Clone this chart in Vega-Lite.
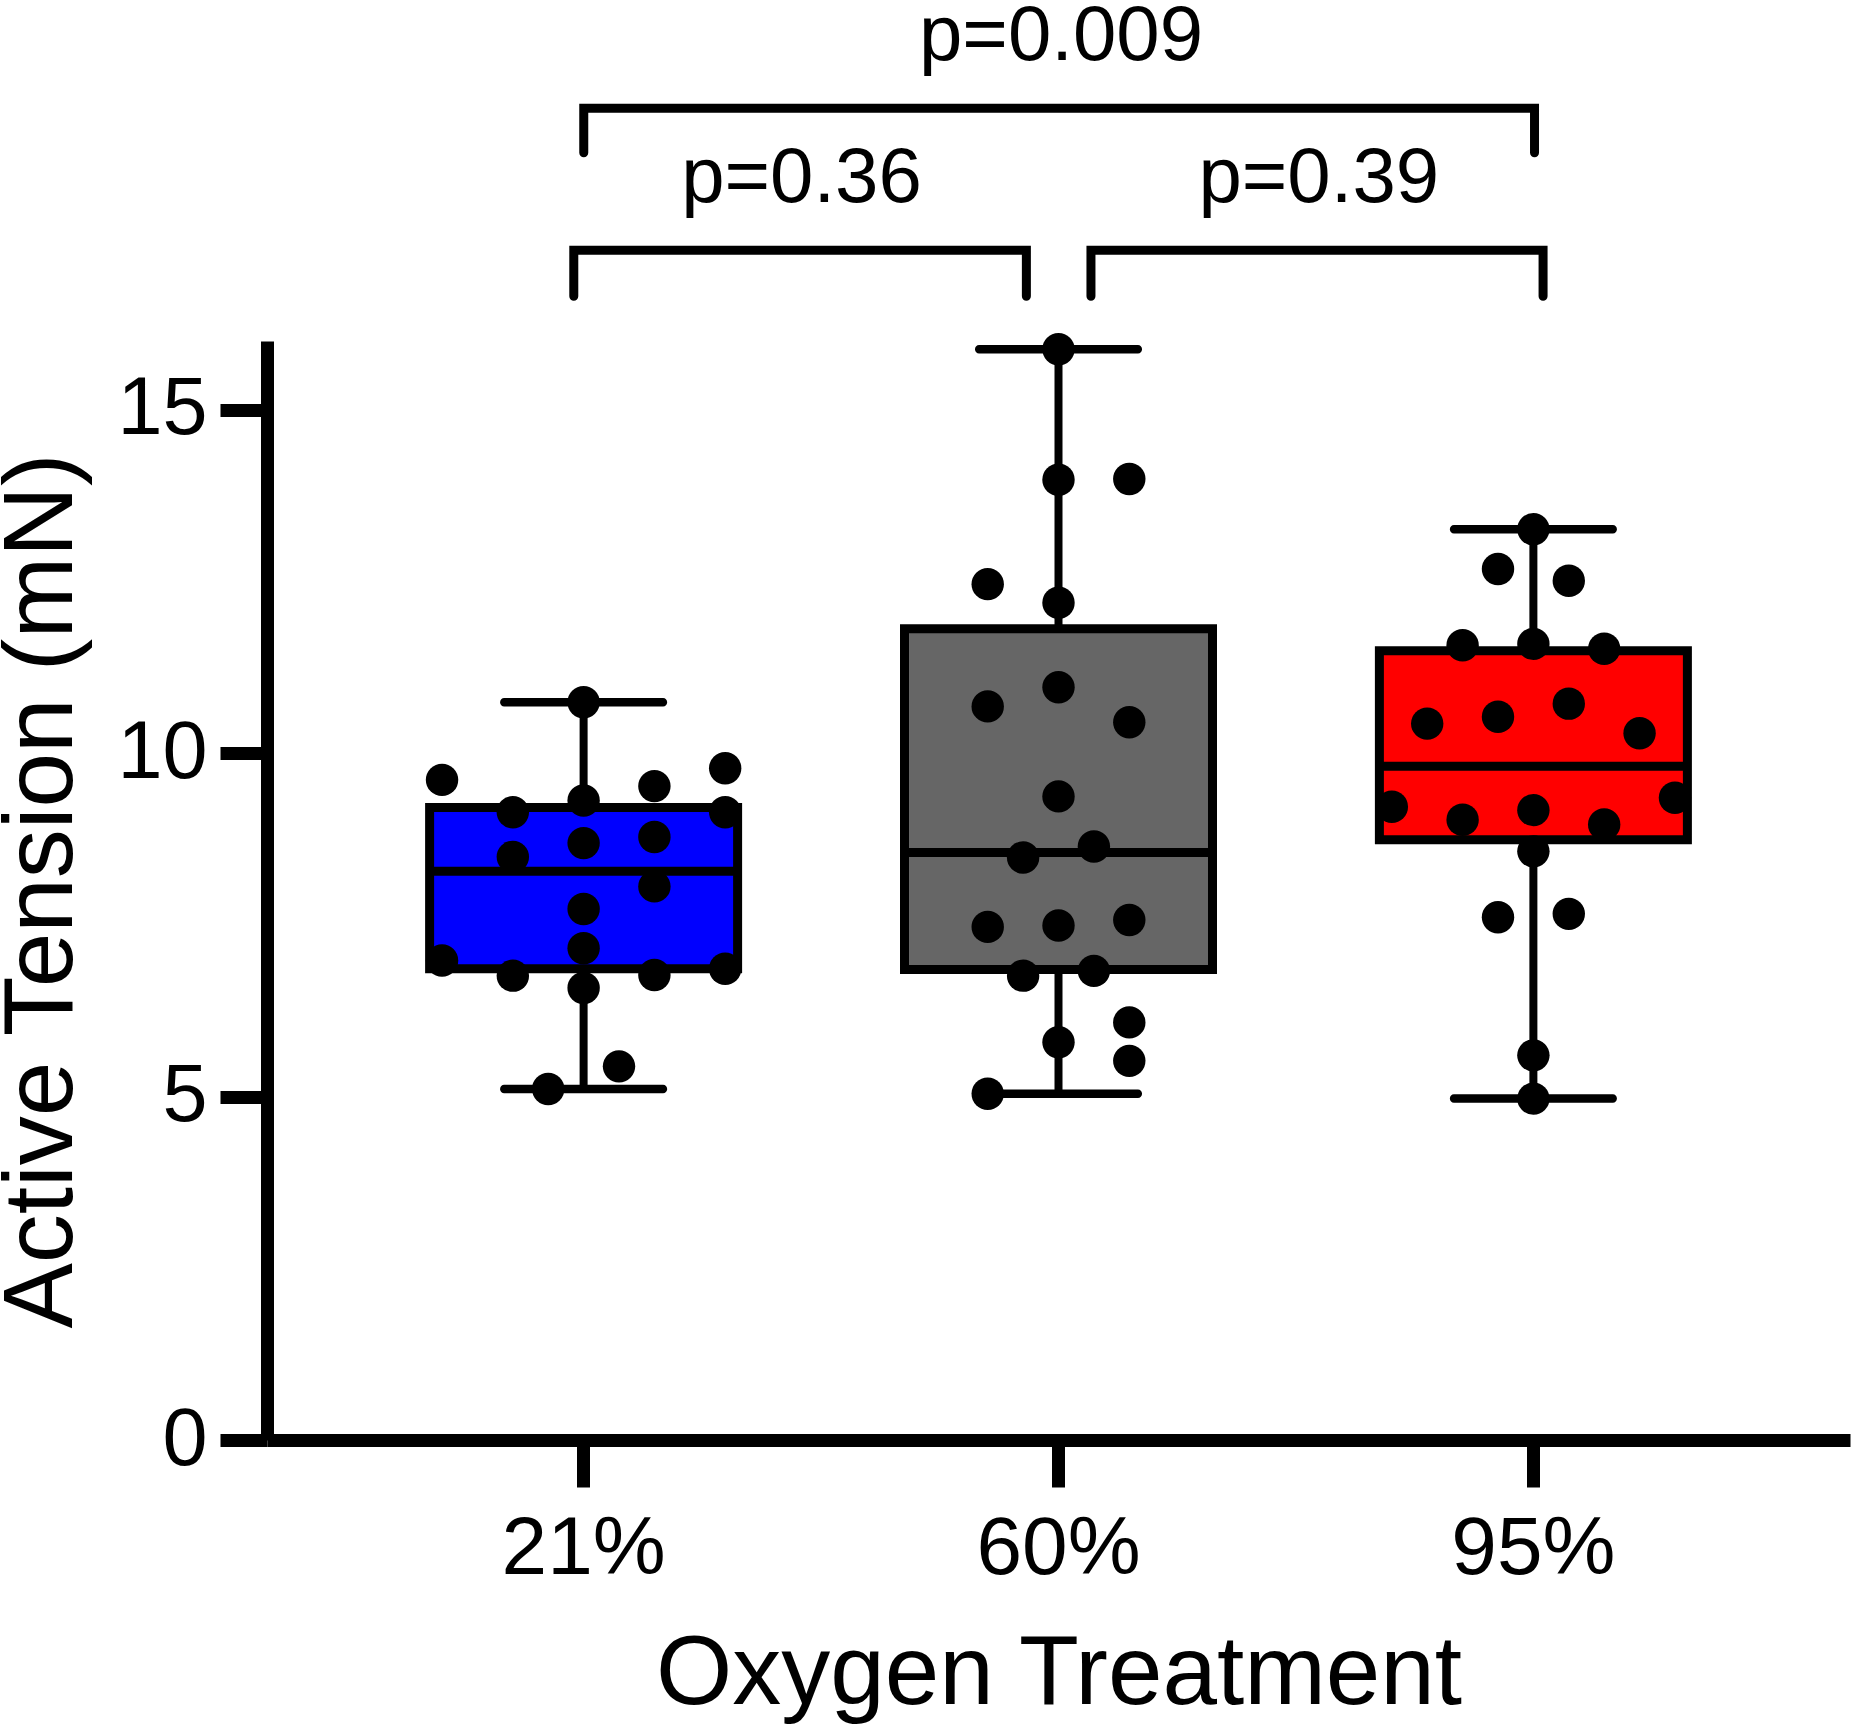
{
  "$schema": "https://vega.github.io/schema/vega-lite/v6.json",
  "autosize": {"type": "none"},
  "padding": {"left": 267, "top": 341, "right": 1, "bottom": 286},
  "width": 1583,
  "height": 1099,
  "background": "white",
  "config": {
    "font": "Liberation Sans",
    "view": {"stroke": null},
    "axis": {
      "domainColor": "black",
      "tickColor": "black",
      "labelColor": "black",
      "titleColor": "black",
      "titleFontWeight": "normal",
      "labelFont": "Liberation Sans",
      "titleFont": "Liberation Sans",
      "grid": false
    }
  },
  "datasets": {
    "points": [
      {"group": "21%", "col": 0, "value": 10.74},
      {"group": "21%", "col": -4, "value": 9.61},
      {"group": "21%", "col": 4, "value": 9.78},
      {"group": "21%", "col": 2, "value": 9.52},
      {"group": "21%", "col": -2, "value": 9.14},
      {"group": "21%", "col": 0, "value": 9.31},
      {"group": "21%", "col": 4, "value": 9.14},
      {"group": "21%", "col": 0, "value": 8.69},
      {"group": "21%", "col": 2, "value": 8.78},
      {"group": "21%", "col": -2, "value": 8.49},
      {"group": "21%", "col": 2, "value": 8.06},
      {"group": "21%", "col": 0, "value": 7.73},
      {"group": "21%", "col": 0, "value": 7.16},
      {"group": "21%", "col": -4, "value": 6.98},
      {"group": "21%", "col": -2, "value": 6.76},
      {"group": "21%", "col": 2, "value": 6.77},
      {"group": "21%", "col": 4, "value": 6.86},
      {"group": "21%", "col": 0, "value": 6.58},
      {"group": "21%", "col": 1, "value": 5.44},
      {"group": "21%", "col": -1, "value": 5.11},
      {"group": "60%", "col": 0, "value": 15.88},
      {"group": "60%", "col": 0, "value": 13.98},
      {"group": "60%", "col": 2, "value": 13.99},
      {"group": "60%", "col": -2, "value": 12.46},
      {"group": "60%", "col": 0, "value": 12.19},
      {"group": "60%", "col": 0, "value": 10.96},
      {"group": "60%", "col": -2, "value": 10.68},
      {"group": "60%", "col": 2, "value": 10.45},
      {"group": "60%", "col": 0, "value": 9.37},
      {"group": "60%", "col": -1, "value": 8.48},
      {"group": "60%", "col": 1, "value": 8.64},
      {"group": "60%", "col": -2, "value": 7.47},
      {"group": "60%", "col": 0, "value": 7.49},
      {"group": "60%", "col": 2, "value": 7.57},
      {"group": "60%", "col": -1, "value": 6.76},
      {"group": "60%", "col": 1, "value": 6.83},
      {"group": "60%", "col": 2, "value": 6.08},
      {"group": "60%", "col": 0, "value": 5.79},
      {"group": "60%", "col": 2, "value": 5.52},
      {"group": "60%", "col": -2, "value": 5.04},
      {"group": "95%", "col": 0, "value": 13.26},
      {"group": "95%", "col": -1, "value": 12.68},
      {"group": "95%", "col": 1, "value": 12.51},
      {"group": "95%", "col": -2, "value": 11.57},
      {"group": "95%", "col": 0, "value": 11.59},
      {"group": "95%", "col": 2, "value": 11.52},
      {"group": "95%", "col": -3, "value": 10.43},
      {"group": "95%", "col": -1, "value": 10.53},
      {"group": "95%", "col": 1, "value": 10.72},
      {"group": "95%", "col": 3, "value": 10.29},
      {"group": "95%", "col": -4, "value": 9.22},
      {"group": "95%", "col": -2, "value": 9.03},
      {"group": "95%", "col": 0, "value": 9.17},
      {"group": "95%", "col": 2, "value": 8.96},
      {"group": "95%", "col": 4, "value": 9.35},
      {"group": "95%", "col": 0, "value": 8.57},
      {"group": "95%", "col": -1, "value": 7.61},
      {"group": "95%", "col": 1, "value": 7.66},
      {"group": "95%", "col": 0, "value": 5.60},
      {"group": "95%", "col": 0, "value": 4.97}
    ],
    "stats": [
      {"group": "21%", "min": 5.11, "q1": 6.86, "median": 8.28, "q3": 9.21, "max": 10.74},
      {"group": "60%", "min": 5.04, "q1": 6.85, "median": 8.555, "q3": 11.81, "max": 15.88},
      {"group": "95%", "min": 4.97, "q1": 8.74, "median": 9.81, "q3": 11.49, "max": 13.26}
    ],
    "brackets": [
      {"id": "a", "ord": 1, "bx": 0.667, "by": 18.74},
      {"id": "a", "ord": 2, "bx": 0.667, "by": 19.39},
      {"id": "a", "ord": 3, "bx": 2.669, "by": 19.39},
      {"id": "a", "ord": 4, "bx": 2.669, "by": 18.74},
      {"id": "b", "ord": 1, "bx": 0.646, "by": 16.65},
      {"id": "b", "ord": 2, "bx": 0.646, "by": 17.32},
      {"id": "b", "ord": 3, "bx": 1.599, "by": 17.32},
      {"id": "b", "ord": 4, "bx": 1.599, "by": 16.65},
      {"id": "c", "ord": 1, "bx": 1.735, "by": 16.65},
      {"id": "c", "ord": 2, "bx": 1.735, "by": 17.32},
      {"id": "c", "ord": 3, "bx": 2.687, "by": 17.32},
      {"id": "c", "ord": 4, "bx": 2.687, "by": 16.65}
    ],
    "labels": [
      {"label": "p=0.009", "bx": 1.672, "by": 20.09},
      {"label": "p=0.36", "bx": 1.1255, "by": 18.02},
      {"label": "p=0.39", "bx": 2.2147, "by": 18.02}
    ]
  },
  "resolve": {"scale": {"x": "independent"}},
  "layer": [
    {
      "layer": [
        {
          "data": {"name": "stats"},
          "mark": {"type": "rule", "color": "black", "strokeWidth": 8},
          "encoding": {
            "x": {"field": "group", "type": "nominal"},
            "y": {"field": "min", "type": "quantitative"},
            "y2": {"field": "max"}
          }
        },
        {
          "data": {"name": "stats"},
          "mark": {"type": "bar", "size": 308, "stroke": "black", "strokeWidth": 9},
          "encoding": {
            "x": {"field": "group", "type": "nominal"},
            "y": {"field": "q1", "type": "quantitative"},
            "y2": {"field": "q3"},
            "fill": {"field": "group", "type": "nominal", "scale": {"domain": ["21%", "60%", "95%"], "range": ["#0000ff", "#666666", "#ff0000"]}, "legend": null}
          }
        },
        {
          "data": {"name": "stats"},
          "mark": {"type": "tick", "size": 308, "thickness": 9, "color": "black", "opacity": 1},
          "encoding": {
            "x": {"field": "group", "type": "nominal"},
            "y": {"field": "median", "type": "quantitative"}
          }
        },
        {
          "data": {"name": "stats"},
          "mark": {"type": "tick", "size": 167, "thickness": 8.5, "cornerRadius": 4, "color": "black", "opacity": 1},
          "encoding": {
            "x": {"field": "group", "type": "nominal"},
            "y": {"field": "min", "type": "quantitative"}
          }
        },
        {
          "data": {"name": "stats"},
          "mark": {"type": "tick", "size": 167, "thickness": 8.5, "cornerRadius": 4, "color": "black", "opacity": 1},
          "encoding": {
            "x": {"field": "group", "type": "nominal"},
            "y": {"field": "max", "type": "quantitative"}
          }
        },
        {
          "data": {"name": "points"},
          "mark": {"type": "circle", "size": 1050, "color": "black", "opacity": 1},
          "encoding": {
            "x": {
              "field": "group",
              "type": "nominal",
              "sort": null,
              "scale": {"domain": ["21%", "60%", "95%"], "paddingInner": 0, "paddingOuter": 0.1667},
              "axis": {
                "title": "Oxygen Treatment",
                "titleFontSize": 98,
                "titlePadding": 37,
                "labelFontSize": 82,
                "labelAngle": 0,
                "labelAlign": "center",
                "labelBaseline": "top",
                "labelPadding": 21,
                "tickSize": 47,
                "tickWidth": 13,
                "domainWidth": 13
              }
            },
            "xOffset": {"field": "col", "type": "quantitative", "scale": {"domain": [-6.709, 6.709]}},
            "y": {
              "field": "value",
              "type": "quantitative",
              "scale": {"domain": [0, 16], "nice": false, "zero": true},
              "axis": {
                "title": "Active Tension (mN)",
                "titleFontSize": 98,
                "titlePadding": 24,
                "values": [0, 5, 10, 15],
                "format": "d",
                "labelFontSize": 81,
                "labelPadding": 13,
                "tickSize": 47,
                "tickWidth": 13,
                "domainWidth": 13
              }
            }
          }
        }
      ]
    },
    {
      "layer": [
        {
          "data": {"name": "brackets"},
          "mark": {"type": "line", "color": "black", "strokeWidth": 9, "strokeCap": "round", "strokeJoin": "miter"},
          "encoding": {
            "x": {"field": "bx", "type": "quantitative", "scale": {"domain": [0, 3.3333], "nice": false, "zero": false}, "axis": null},
            "y": {"field": "by", "type": "quantitative"},
            "detail": {"field": "id"},
            "order": {"field": "ord", "type": "quantitative"}
          }
        },
        {
          "data": {"name": "labels"},
          "mark": {"type": "text", "fontSize": 78, "font": "Liberation Sans", "align": "center", "baseline": "alphabetic", "color": "black"},
          "encoding": {
            "x": {"field": "bx", "type": "quantitative"},
            "y": {"field": "by", "type": "quantitative"},
            "text": {"field": "label"}
          }
        }
      ]
    }
  ]
}
